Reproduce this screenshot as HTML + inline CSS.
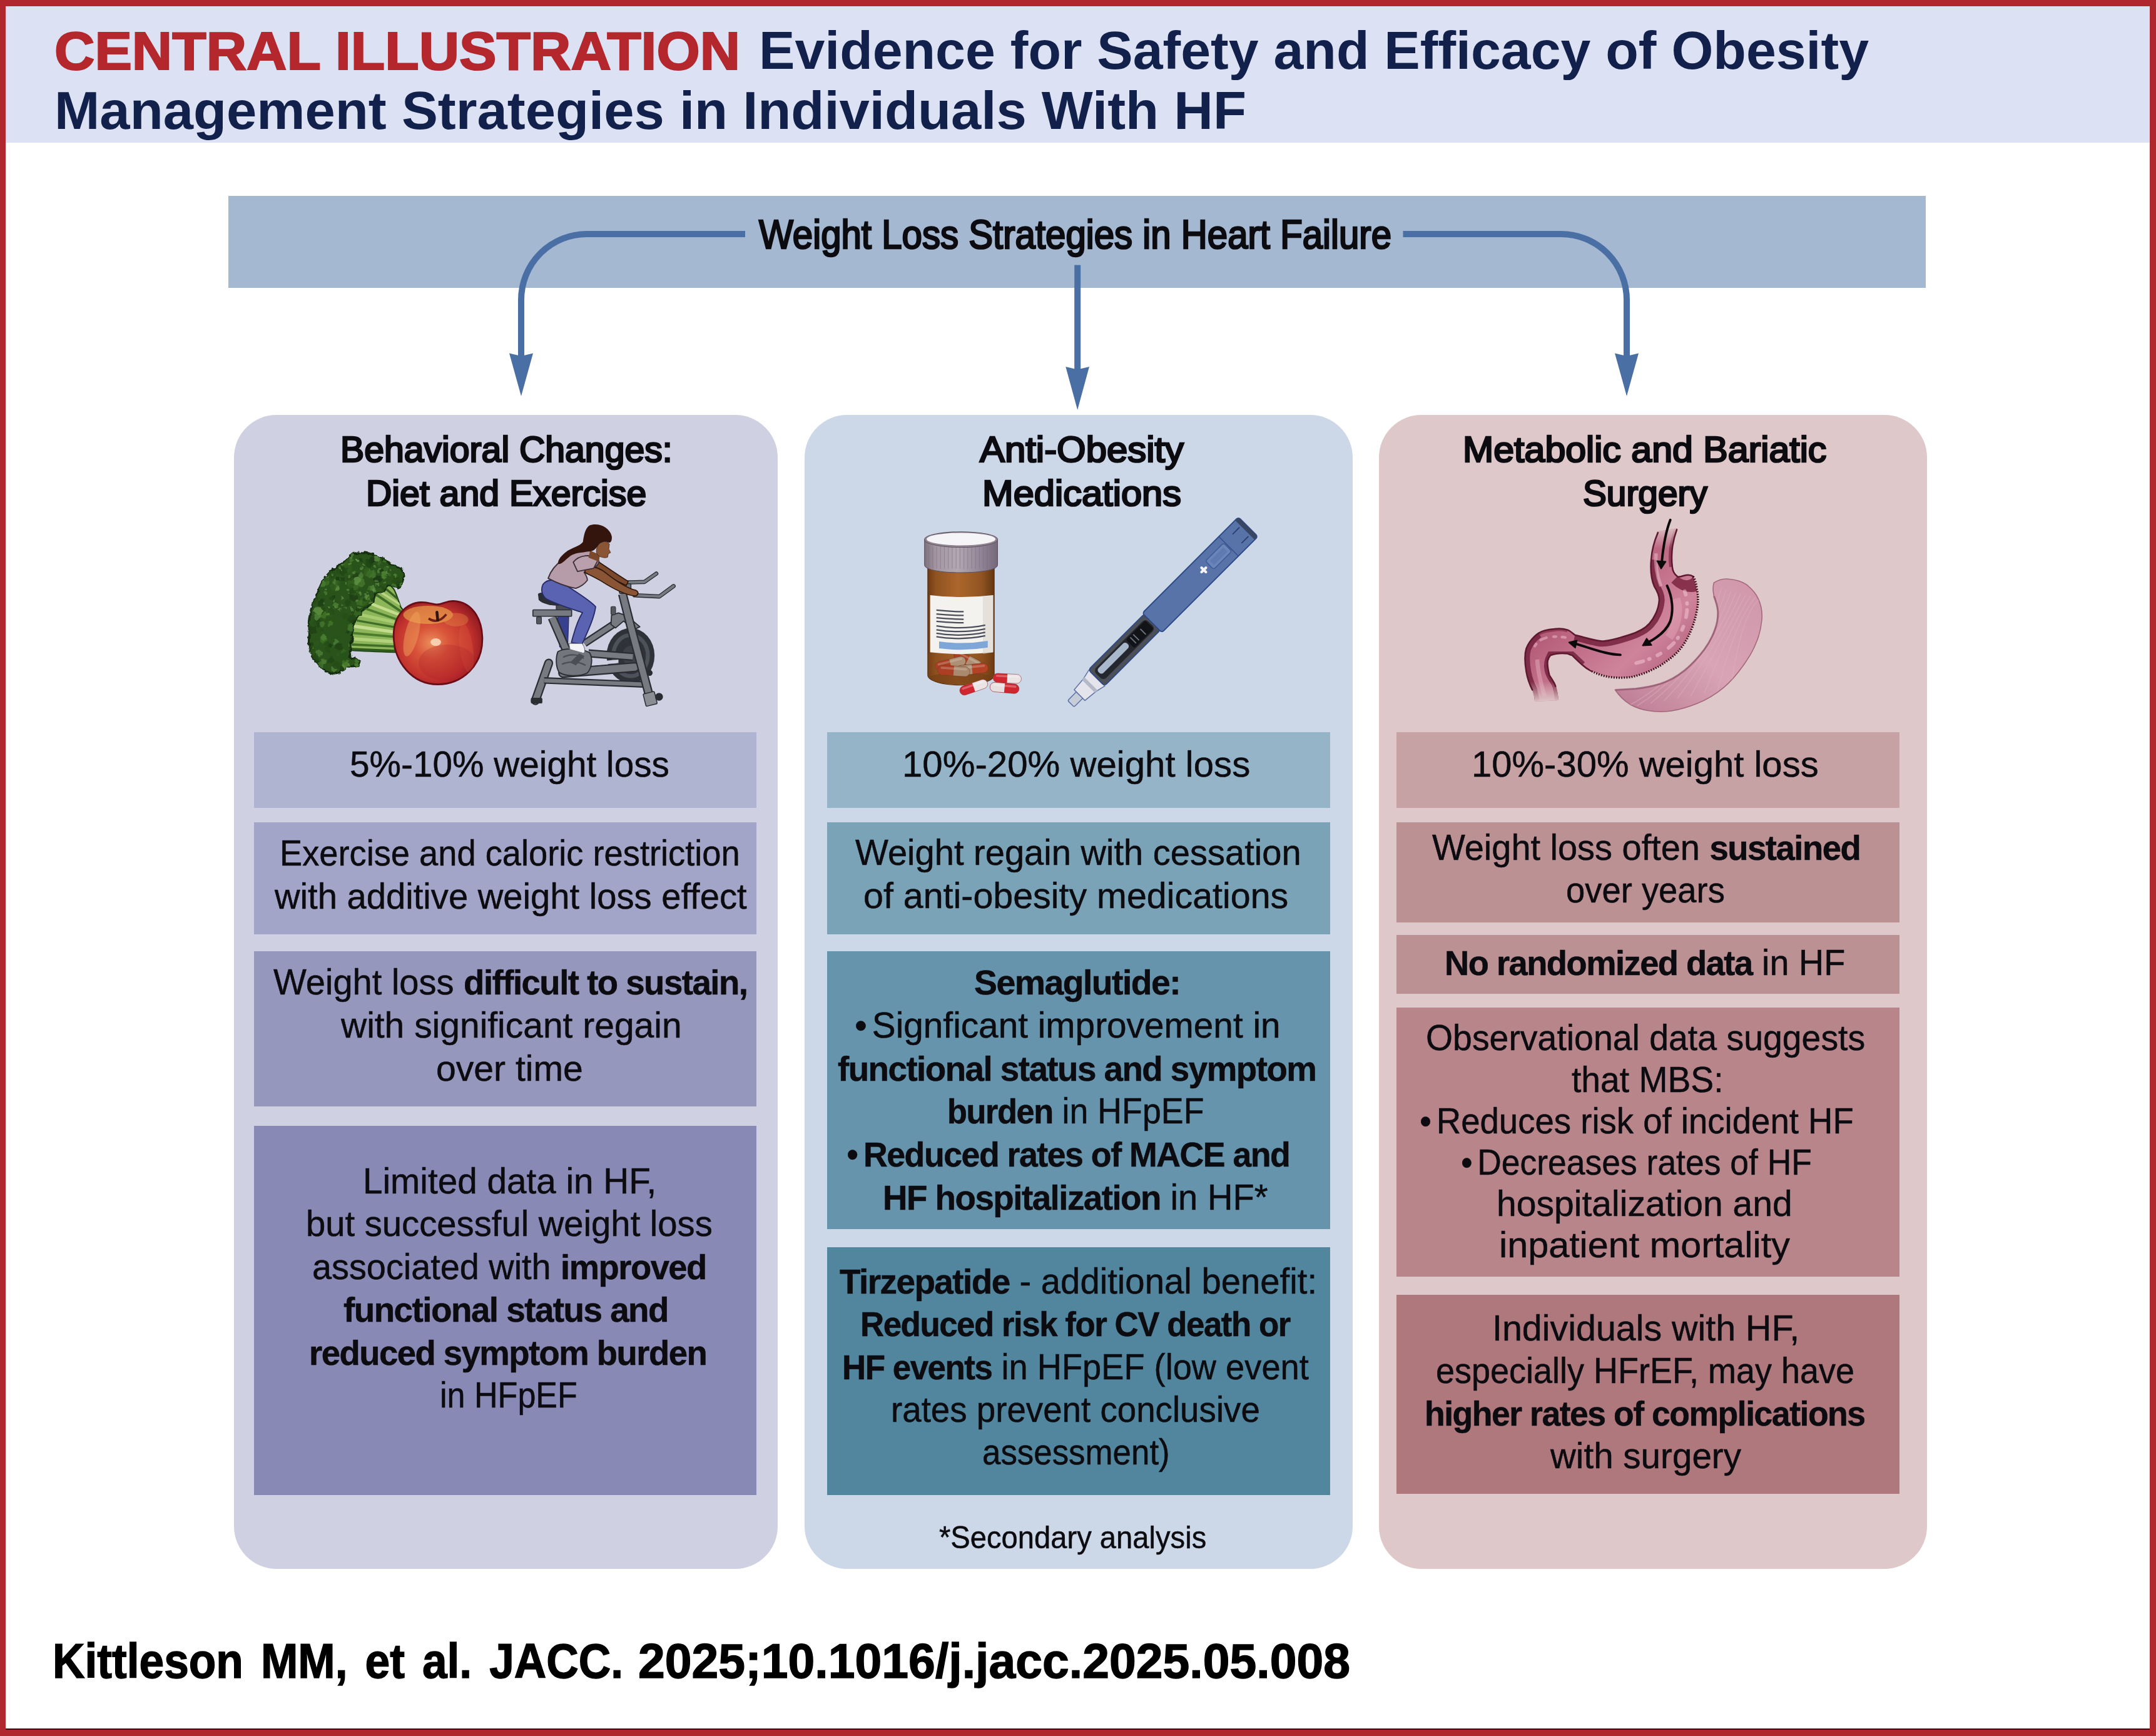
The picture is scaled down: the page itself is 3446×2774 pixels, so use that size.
<!DOCTYPE html>
<html lang="en"><head><meta charset="utf-8">
<title>Central Illustration: Obesity Management Strategies in HF</title>
<style>
html,body{margin:0;padding:0;background:#fff;}
body{width:3446px;height:2774px;position:relative;overflow:hidden;font-family:"Liberation Sans", "DejaVu Sans", sans-serif;}
#frame{position:absolute;left:0;top:0;width:3446px;height:2774px;box-sizing:border-box;border-style:solid;border-color:#b0272d;border-width:10px 10px 11px 9px;}
.bx{position:absolute;}
.t{position:absolute;white-space:nowrap;line-height:1;transform-origin:0 0;margin:0;}
.t b{font-weight:700;letter-spacing:-0.028em;font-size:0.975em;}
p.t{-webkit-text-stroke:0.5px currentColor;}
.red{-webkit-text-stroke:2.2px #b3272d;}
p.md{-webkit-text-stroke:2.7px currentColor;}
.bu{margin-right:0.14em;}
p.ft{-webkit-text-stroke:1.4px currentColor;}
svg.art{position:absolute;left:0;top:0;overflow:visible;}
</style></head><body>
<div class="bx" style="left:9.0px;top:10.0px;width:3428.0px;height:218.0px;background:#dce2f3;"></div>
<div class="bx" style="left:365.0px;top:313.0px;width:2713.0px;height:146.5px;background:#a5b8d1;"></div>
<div class="bx" style="left:373.5px;top:663.3px;width:869.1px;height:1843.7px;background:#d0d0e3;border-radius:68px;"></div>
<div class="bx" style="left:1285.5px;top:663.3px;width:876.0px;height:1843.7px;background:#ccd8e7;border-radius:68px;"></div>
<div class="bx" style="left:2204.0px;top:663.3px;width:876.0px;height:1843.7px;background:#dec8c9;border-radius:68px;"></div>
<div class="bx" style="left:406.2px;top:1170.0px;width:803.3px;height:120.5px;background:#afb4d1;"></div>
<div class="bx" style="left:406.2px;top:1314.0px;width:803.3px;height:179.3px;background:#a3a5c8;"></div>
<div class="bx" style="left:406.2px;top:1520.0px;width:803.3px;height:247.7px;background:#9597bc;"></div>
<div class="bx" style="left:406.2px;top:1799.0px;width:803.3px;height:589.8px;background:#8889b5;"></div>
<div class="bx" style="left:1322.0px;top:1170.0px;width:804.0px;height:120.5px;background:#96b4c8;"></div>
<div class="bx" style="left:1322.0px;top:1314.0px;width:804.0px;height:179.3px;background:#7ba3b8;"></div>
<div class="bx" style="left:1322.0px;top:1520.0px;width:804.0px;height:444.4px;background:#6694ac;"></div>
<div class="bx" style="left:1322.0px;top:1993.0px;width:804.0px;height:395.8px;background:#52869f;"></div>
<div class="bx" style="left:2232.0px;top:1170.0px;width:804.0px;height:120.5px;background:#c6a2a5;"></div>
<div class="bx" style="left:2232.0px;top:1314.0px;width:804.0px;height:159.5px;background:#bc9194;"></div>
<div class="bx" style="left:2232.0px;top:1494.0px;width:804.0px;height:93.8px;background:#bc9194;"></div>
<div class="bx" style="left:2232.0px;top:1609.6px;width:804.0px;height:430.8px;background:#b8868a;"></div>
<div class="bx" style="left:2232.0px;top:2069.0px;width:804.0px;height:317.5px;background:#ae787d;"></div>
<svg class="art" width="3446" height="2774" viewBox="0 0 3446 2774" aria-label="flow arrows and illustrations">
<g fill="none" stroke="#4a6fa5" stroke-width="10">
<path d="M1191,374 H938 A105,105 0 0 0 833,479 V572"/>
<path d="M2242.500,374 H2495 A105,105 0 0 1 2600,479 V572"/>
<path d="M1722.200,423.500 V592"/>
</g>
<g fill="#4a6fa5">
<path d="M814,564.500 L833,569 L852,564.500 L833,633 Z"/>
<path d="M2581,564.500 L2600,569 L2619,564.500 L2600,633 Z"/>
<path d="M1703.300,586 L1722.200,590.500 L1741,586 L1722.200,655 Z"/>
</g>
<svg x="470" y="860" width="330" height="250" viewBox="0 0 2156 1633">
<defs>
<clipPath id="crownClip"><path id="crownP" d="M620,160 C700,140 780,150 840,180 C900,200 960,230 1000,270 C1060,290 1120,310 1140,340 C1160,380 1140,440 1110,520 C1090,540 1060,500 1000,490 C960,500 950,540 940,560 C900,560 860,560 850,580 C830,620 830,660 800,690 C760,720 720,740 700,770 C660,810 640,850 620,900 C600,960 610,1000 600,1060 C590,1110 580,1150 590,1180 C580,1220 580,1240 600,1250 C640,1250 670,1260 680,1280 C690,1310 670,1330 640,1340 C600,1350 570,1340 540,1350 C510,1380 480,1400 440,1410 C400,1420 360,1400 330,1390 C290,1360 270,1330 250,1300 C210,1270 190,1240 180,1200 C150,1140 150,1060 160,1000 C150,900 170,780 190,700 C200,640 230,600 250,560 C270,500 300,440 330,400 C360,350 410,320 450,300 C480,260 520,240 560,220 C580,190 600,170 620,160 Z"/></clipPath>
<clipPath id="stalkClip"><path id="stalkP" d="M850,580 C880,560 960,500 1000,490 C1030,510 1050,540 1060,570 C1080,620 1100,680 1115,720 L1145,760 C1100,800 1070,840 1060,870 C1040,960 1040,1100 1055,1190 C900,1185 750,1180 600,1170 C590,1150 590,1120 595,1090 C600,1000 610,930 640,860 C660,820 680,790 700,770 C740,740 790,710 820,680 C835,650 840,610 850,580 Z"/></clipPath>
<filter id="rough" x="-5%" y="-5%" width="110%" height="110%"><feTurbulence type="fractalNoise" baseFrequency="0.022" numOctaves="2" seed="4" result="n"/><feDisplacementMap in="SourceGraphic" in2="n" scale="46" xChannelSelector="R" yChannelSelector="G"/></filter>
<radialGradient id="appleG" cx="0.46" cy="0.52" r="0.6" fx="0.42" fy="0.5">
<stop offset="0" stop-color="#ec8c5c"/><stop offset="0.32" stop-color="#d9553a"/><stop offset="0.72" stop-color="#c0302c"/><stop offset="1" stop-color="#8a1720"/>
</radialGradient>
</defs>
<path d="M850,580 C880,560 960,500 1000,490 C1030,510 1050,540 1060,570 C1080,620 1100,680 1115,720 L1145,760 C1100,800 1070,840 1060,870 C1040,960 1040,1100 1055,1190 C900,1185 750,1180 600,1170 C590,1150 590,1120 595,1090 C600,1000 610,930 640,860 C660,820 680,790 700,770 C740,740 790,710 820,680 C835,650 840,610 850,580 Z" fill="#8db55a" stroke="#1f4216" stroke-width="14"/>
<g clip-path="url(#stalkClip)" fill="none" stroke-linecap="round">
<path d="M860,590 L1110,760" stroke="#3f6e26" stroke-width="26"/>
<path d="M900,560 L1120,700" stroke="#b9d684" stroke-width="22"/>
<path d="M820,690 L1100,800" stroke="#c4dc8e" stroke-width="30"/>
<path d="M760,740 L1080,850" stroke="#4b7c2c" stroke-width="24"/>
<path d="M700,800 L1070,880" stroke="#a8cc70" stroke-width="34"/>
<path d="M660,860 L1060,930" stroke="#3f6e26" stroke-width="22"/>
<path d="M640,920 L1050,980" stroke="#c4dc8e" stroke-width="34"/>
<path d="M620,990 L1050,1030" stroke="#4b7c2c" stroke-width="24"/>
<path d="M610,1050 L1050,1080" stroke="#b4d27c" stroke-width="34"/>
<path d="M600,1110 L1050,1130" stroke="#3f6e26" stroke-width="24"/>
<path d="M600,1160 L1055,1180" stroke="#2f5a1e" stroke-width="30"/>
<path d="M950,520 L1090,640" stroke="#35601f" stroke-width="22"/>
</g>
<g filter="url(#rough)">
<use href="#crownP" fill="#2a531b" stroke="#142f0f" stroke-width="20"/>
<g clip-path="url(#crownClip)">
<circle cx="473" cy="341" r="35" fill="#264c18" opacity="0.88"/>
<circle cx="244" cy="890" r="43" fill="#1c3d13" opacity="0.56"/>
<circle cx="583" cy="238" r="18" fill="#204316" opacity="0.57"/>
<circle cx="715" cy="1353" r="34" fill="#1a3a12" opacity="0.93"/>
<circle cx="727" cy="653" r="45" fill="#356621" opacity="0.77"/>
<circle cx="283" cy="682" r="32" fill="#1a3a12" opacity="0.67"/>
<circle cx="966" cy="379" r="33" fill="#1c3d13" opacity="0.70"/>
<circle cx="697" cy="229" r="17" fill="#1c3d13" opacity="0.75"/>
<circle cx="681" cy="1137" r="29" fill="#5a8c3f" opacity="0.69"/>
<circle cx="398" cy="378" r="39" fill="#264c18" opacity="0.78"/>
<circle cx="675" cy="1261" r="37" fill="#4b8032" opacity="0.79"/>
<circle cx="223" cy="800" r="20" fill="#2f5b1e" opacity="0.61"/>
<circle cx="638" cy="199" r="36" fill="#29521a" opacity="0.78"/>
<circle cx="1025" cy="548" r="36" fill="#1a3a12" opacity="0.75"/>
<circle cx="946" cy="237" r="18" fill="#4b8032" opacity="0.74"/>
<circle cx="814" cy="227" r="37" fill="#1a3a12" opacity="0.95"/>
<circle cx="971" cy="511" r="27" fill="#2f5b1e" opacity="0.56"/>
<circle cx="611" cy="363" r="19" fill="#356621" opacity="0.64"/>
<circle cx="437" cy="1087" r="27" fill="#5a8c3f" opacity="0.58"/>
<circle cx="599" cy="847" r="42" fill="#204316" opacity="0.90"/>
<circle cx="428" cy="677" r="26" fill="#204316" opacity="0.93"/>
<circle cx="300" cy="373" r="22" fill="#1c3d13" opacity="0.55"/>
<circle cx="981" cy="381" r="24" fill="#427629" opacity="0.72"/>
<circle cx="519" cy="869" r="44" fill="#29521a" opacity="0.93"/>
<circle cx="804" cy="1089" r="29" fill="#29521a" opacity="0.71"/>
<circle cx="548" cy="281" r="35" fill="#356621" opacity="0.63"/>
<circle cx="1134" cy="709" r="19" fill="#1a3a12" opacity="0.57"/>
<circle cx="150" cy="342" r="19" fill="#2f5b1e" opacity="0.80"/>
<circle cx="220" cy="414" r="27" fill="#4b8032" opacity="0.93"/>
<circle cx="752" cy="752" r="19" fill="#5a8c3f" opacity="0.95"/>
<circle cx="615" cy="764" r="18" fill="#264c18" opacity="0.85"/>
<circle cx="890" cy="757" r="36" fill="#29521a" opacity="0.56"/>
<circle cx="1100" cy="820" r="20" fill="#29521a" opacity="0.92"/>
<circle cx="908" cy="528" r="35" fill="#264c18" opacity="0.83"/>
<circle cx="411" cy="615" r="21" fill="#1c3d13" opacity="0.76"/>
<circle cx="929" cy="568" r="22" fill="#1c3d13" opacity="0.87"/>
<circle cx="968" cy="1089" r="22" fill="#29521a" opacity="0.75"/>
<circle cx="881" cy="1406" r="39" fill="#5a8c3f" opacity="0.65"/>
<circle cx="842" cy="1364" r="29" fill="#2f5b1e" opacity="0.93"/>
<circle cx="514" cy="429" r="22" fill="#1c3d13" opacity="0.69"/>
<circle cx="632" cy="1401" r="34" fill="#356621" opacity="0.74"/>
<circle cx="802" cy="1165" r="18" fill="#264c18" opacity="0.91"/>
<circle cx="932" cy="1102" r="30" fill="#427629" opacity="0.72"/>
<circle cx="785" cy="260" r="44" fill="#204316" opacity="0.74"/>
<circle cx="893" cy="257" r="20" fill="#427629" opacity="0.56"/>
<circle cx="740" cy="740" r="35" fill="#1a3a12" opacity="0.88"/>
<circle cx="1130" cy="984" r="26" fill="#29521a" opacity="0.77"/>
<circle cx="171" cy="1165" r="37" fill="#264c18" opacity="0.76"/>
<circle cx="1083" cy="700" r="42" fill="#1c3d13" opacity="0.56"/>
<circle cx="362" cy="786" r="38" fill="#2f5b1e" opacity="0.65"/>
<circle cx="569" cy="316" r="43" fill="#2f5b1e" opacity="0.91"/>
<circle cx="812" cy="1185" r="31" fill="#29521a" opacity="0.60"/>
<circle cx="301" cy="798" r="42" fill="#427629" opacity="0.79"/>
<circle cx="926" cy="340" r="20" fill="#1a3a12" opacity="0.84"/>
<circle cx="706" cy="563" r="31" fill="#29521a" opacity="0.74"/>
<circle cx="926" cy="1271" r="17" fill="#1c3d13" opacity="0.66"/>
<circle cx="922" cy="794" r="32" fill="#264c18" opacity="0.73"/>
<circle cx="762" cy="792" r="31" fill="#4b8032" opacity="0.73"/>
<circle cx="683" cy="757" r="44" fill="#29521a" opacity="0.90"/>
<circle cx="1092" cy="479" r="32" fill="#1c3d13" opacity="0.89"/>
<circle cx="287" cy="304" r="29" fill="#264c18" opacity="0.82"/>
<circle cx="578" cy="420" r="25" fill="#264c18" opacity="0.91"/>
<circle cx="304" cy="1059" r="35" fill="#427629" opacity="0.65"/>
<circle cx="287" cy="744" r="38" fill="#264c18" opacity="0.71"/>
<circle cx="637" cy="1407" r="40" fill="#427629" opacity="0.83"/>
<circle cx="1144" cy="662" r="28" fill="#2f5b1e" opacity="0.68"/>
<circle cx="872" cy="174" r="32" fill="#5a8c3f" opacity="0.83"/>
<circle cx="534" cy="807" r="24" fill="#264c18" opacity="0.60"/>
<circle cx="1068" cy="440" r="42" fill="#264c18" opacity="0.66"/>
<circle cx="189" cy="1139" r="24" fill="#427629" opacity="0.88"/>
<circle cx="999" cy="1008" r="44" fill="#204316" opacity="0.61"/>
<circle cx="1069" cy="874" r="37" fill="#264c18" opacity="0.66"/>
<circle cx="949" cy="382" r="42" fill="#4b8032" opacity="0.93"/>
<circle cx="784" cy="1168" r="18" fill="#1c3d13" opacity="0.58"/>
<circle cx="1012" cy="726" r="26" fill="#29521a" opacity="0.72"/>
<circle cx="1065" cy="939" r="17" fill="#1c3d13" opacity="0.93"/>
<circle cx="1119" cy="482" r="21" fill="#4b8032" opacity="0.80"/>
<circle cx="681" cy="411" r="29" fill="#427629" opacity="0.66"/>
<circle cx="953" cy="1413" r="17" fill="#356621" opacity="0.84"/>
<circle cx="701" cy="390" r="30" fill="#5a8c3f" opacity="0.59"/>
<circle cx="968" cy="698" r="30" fill="#204316" opacity="0.94"/>
<circle cx="457" cy="423" r="22" fill="#1c3d13" opacity="0.88"/>
<circle cx="856" cy="957" r="28" fill="#2f5b1e" opacity="0.94"/>
<circle cx="986" cy="168" r="34" fill="#4b8032" opacity="0.72"/>
<circle cx="205" cy="994" r="27" fill="#29521a" opacity="0.82"/>
<circle cx="431" cy="457" r="24" fill="#5a8c3f" opacity="0.62"/>
<circle cx="419" cy="154" r="26" fill="#2f5b1e" opacity="0.94"/>
<circle cx="697" cy="460" r="44" fill="#4b8032" opacity="0.64"/>
<circle cx="332" cy="575" r="18" fill="#4b8032" opacity="0.75"/>
<circle cx="350" cy="791" r="16" fill="#4b8032" opacity="0.88"/>
<circle cx="293" cy="895" r="27" fill="#4b8032" opacity="0.67"/>
<circle cx="382" cy="893" r="31" fill="#427629" opacity="0.81"/>
<circle cx="865" cy="1266" r="27" fill="#2f5b1e" opacity="0.84"/>
<circle cx="644" cy="510" r="34" fill="#427629" opacity="0.57"/>
<circle cx="985" cy="1282" r="34" fill="#29521a" opacity="0.61"/>
<circle cx="673" cy="790" r="41" fill="#356621" opacity="0.88"/>
<circle cx="734" cy="1283" r="36" fill="#1c3d13" opacity="0.58"/>
<circle cx="191" cy="959" r="44" fill="#204316" opacity="0.88"/>
<circle cx="708" cy="947" r="34" fill="#1c3d13" opacity="0.75"/>
<circle cx="153" cy="1163" r="38" fill="#29521a" opacity="0.91"/>
<circle cx="241" cy="818" r="38" fill="#5a8c3f" opacity="0.65"/>
<circle cx="224" cy="487" r="37" fill="#1c3d13" opacity="0.64"/>
<circle cx="799" cy="734" r="41" fill="#264c18" opacity="0.74"/>
<circle cx="833" cy="1124" r="34" fill="#1c3d13" opacity="0.58"/>
<circle cx="297" cy="472" r="38" fill="#4b8032" opacity="0.80"/>
<circle cx="283" cy="762" r="30" fill="#264c18" opacity="0.83"/>
<circle cx="825" cy="519" r="31" fill="#5a8c3f" opacity="0.74"/>
<circle cx="917" cy="1411" r="32" fill="#4b8032" opacity="0.94"/>
<circle cx="1086" cy="172" r="29" fill="#29521a" opacity="0.94"/>
<circle cx="599" cy="491" r="22" fill="#1c3d13" opacity="0.58"/>
<circle cx="240" cy="1099" r="23" fill="#2f5b1e" opacity="0.60"/>
<circle cx="970" cy="796" r="42" fill="#2f5b1e" opacity="0.64"/>
<circle cx="1047" cy="767" r="16" fill="#356621" opacity="0.93"/>
<circle cx="831" cy="664" r="37" fill="#204316" opacity="0.69"/>
<circle cx="466" cy="1217" r="16" fill="#2f5b1e" opacity="0.89"/>
<circle cx="270" cy="1326" r="37" fill="#4b8032" opacity="0.65"/>
<circle cx="214" cy="645" r="42" fill="#264c18" opacity="0.69"/>
<circle cx="578" cy="499" r="17" fill="#264c18" opacity="0.57"/>
<circle cx="811" cy="956" r="20" fill="#4b8032" opacity="0.72"/>
<circle cx="465" cy="1131" r="39" fill="#204316" opacity="0.90"/>
<circle cx="961" cy="951" r="43" fill="#29521a" opacity="0.77"/>
<circle cx="869" cy="212" r="37" fill="#5a8c3f" opacity="0.80"/>
<circle cx="288" cy="1254" r="30" fill="#29521a" opacity="0.60"/>
<circle cx="622" cy="586" r="24" fill="#4b8032" opacity="0.71"/>
<circle cx="388" cy="763" r="36" fill="#264c18" opacity="0.62"/>
<circle cx="311" cy="413" r="43" fill="#5a8c3f" opacity="0.77"/>
<circle cx="602" cy="572" r="38" fill="#204316" opacity="0.61"/>
<circle cx="342" cy="265" r="26" fill="#264c18" opacity="0.68"/>
<circle cx="518" cy="1177" r="22" fill="#356621" opacity="0.85"/>
<circle cx="562" cy="675" r="31" fill="#204316" opacity="0.66"/>
<circle cx="902" cy="782" r="33" fill="#2f5b1e" opacity="0.60"/>
<circle cx="653" cy="949" r="41" fill="#1c3d13" opacity="0.59"/>
<circle cx="1046" cy="638" r="35" fill="#204316" opacity="0.93"/>
<circle cx="998" cy="1258" r="16" fill="#356621" opacity="0.72"/>
<circle cx="913" cy="1171" r="45" fill="#5a8c3f" opacity="0.55"/>
<circle cx="541" cy="1327" r="40" fill="#5a8c3f" opacity="0.94"/>
<circle cx="398" cy="288" r="20" fill="#29521a" opacity="0.94"/>
<circle cx="258" cy="1198" r="37" fill="#5a8c3f" opacity="0.58"/>
<circle cx="926" cy="151" r="19" fill="#1a3a12" opacity="0.92"/>
<circle cx="795" cy="535" r="19" fill="#4b8032" opacity="0.76"/>
<circle cx="587" cy="1120" r="18" fill="#4b8032" opacity="0.76"/>
<circle cx="732" cy="642" r="22" fill="#1a3a12" opacity="0.55"/>
<circle cx="687" cy="1415" r="24" fill="#2f5b1e" opacity="0.81"/>
<circle cx="1033" cy="753" r="23" fill="#1c3d13" opacity="0.56"/>
<circle cx="561" cy="975" r="17" fill="#1c3d13" opacity="0.75"/>
<circle cx="824" cy="683" r="23" fill="#204316" opacity="0.92"/>
<circle cx="376" cy="193" r="26" fill="#204316" opacity="0.69"/>
<circle cx="546" cy="158" r="24" fill="#29521a" opacity="0.58"/>
<circle cx="645" cy="404" r="38" fill="#1c3d13" opacity="0.64"/>
<circle cx="371" cy="1115" r="24" fill="#1a3a12" opacity="0.75"/>
<circle cx="337" cy="433" r="28" fill="#356621" opacity="0.93"/>
<circle cx="296" cy="649" r="22" fill="#1a3a12" opacity="0.61"/>
<circle cx="201" cy="226" r="27" fill="#2f5b1e" opacity="0.84"/>
<circle cx="1147" cy="1333" r="25" fill="#427629" opacity="0.81"/>
<circle cx="674" cy="743" r="25" fill="#204316" opacity="0.89"/>
<circle cx="1134" cy="711" r="19" fill="#264c18" opacity="0.66"/>
<circle cx="501" cy="1363" r="19" fill="#1c3d13" opacity="0.70"/>
<circle cx="918" cy="542" r="40" fill="#264c18" opacity="0.57"/>
<circle cx="623" cy="623" r="43" fill="#1c3d13" opacity="0.68"/>
<circle cx="887" cy="752" r="34" fill="#1c3d13" opacity="0.87"/>
<circle cx="916" cy="201" r="17" fill="#264c18" opacity="0.87"/>
<circle cx="212" cy="397" r="17" fill="#1a3a12" opacity="0.69"/>
<circle cx="422" cy="1366" r="34" fill="#4b8032" opacity="0.85"/>
<circle cx="839" cy="1323" r="24" fill="#1a3a12" opacity="0.92"/>
<circle cx="783" cy="1347" r="16" fill="#1c3d13" opacity="0.59"/>
<circle cx="865" cy="741" r="39" fill="#4b8032" opacity="0.92"/>
<circle cx="964" cy="318" r="30" fill="#356621" opacity="0.87"/>
<circle cx="888" cy="1194" r="39" fill="#1a3a12" opacity="0.64"/>
<circle cx="1011" cy="735" r="39" fill="#1a3a12" opacity="0.58"/>
<circle cx="347" cy="1106" r="23" fill="#264c18" opacity="0.81"/>
<circle cx="631" cy="841" r="20" fill="#204316" opacity="0.90"/>
<circle cx="1137" cy="486" r="18" fill="#264c18" opacity="0.72"/>
<circle cx="1138" cy="1384" r="21" fill="#427629" opacity="0.72"/>
<circle cx="770" cy="1006" r="38" fill="#264c18" opacity="0.86"/>
<circle cx="443" cy="504" r="24" fill="#4b8032" opacity="0.85"/>
<circle cx="349" cy="464" r="23" fill="#427629" opacity="0.66"/>
<circle cx="1057" cy="389" r="17" fill="#4b8032" opacity="0.95"/>
<circle cx="657" cy="443" r="40" fill="#5a8c3f" opacity="0.95"/>
<circle cx="252" cy="752" r="40" fill="#5a8c3f" opacity="0.92"/>
<circle cx="190" cy="522" r="19" fill="#1c3d13" opacity="0.79"/>
<circle cx="977" cy="396" r="18" fill="#29521a" opacity="0.90"/>
<circle cx="599" cy="480" r="39" fill="#356621" opacity="0.59"/>
<circle cx="746" cy="937" r="22" fill="#2f5b1e" opacity="0.69"/>
<circle cx="194" cy="1419" r="17" fill="#1c3d13" opacity="0.88"/>
<circle cx="968" cy="669" r="27" fill="#1a3a12" opacity="0.67"/>
<circle cx="353" cy="1160" r="32" fill="#264c18" opacity="0.71"/>
<circle cx="945" cy="993" r="20" fill="#29521a" opacity="0.59"/>
<circle cx="313" cy="1033" r="28" fill="#4b8032" opacity="0.82"/>
<circle cx="567" cy="215" r="38" fill="#2f5b1e" opacity="0.72"/>
<circle cx="168" cy="1123" r="40" fill="#1c3d13" opacity="0.71"/>
<circle cx="554" cy="1346" r="29" fill="#427629" opacity="0.72"/>
<circle cx="970" cy="665" r="42" fill="#5a8c3f" opacity="0.86"/>
<circle cx="279" cy="215" r="20" fill="#204316" opacity="0.59"/>
<circle cx="772" cy="620" r="31" fill="#427629" opacity="0.69"/>
<circle cx="311" cy="368" r="18" fill="#204316" opacity="0.75"/>
<circle cx="954" cy="1377" r="21" fill="#427629" opacity="0.88"/>
<circle cx="193" cy="1309" r="25" fill="#1a3a12" opacity="0.92"/>
<circle cx="537" cy="1298" r="34" fill="#427629" opacity="0.81"/>
<circle cx="1006" cy="938" r="34" fill="#1c3d13" opacity="0.88"/>
<circle cx="332" cy="427" r="27" fill="#29521a" opacity="0.61"/>
<circle cx="509" cy="339" r="45" fill="#1c3d13" opacity="0.57"/>
<circle cx="712" cy="1111" r="17" fill="#2f5b1e" opacity="0.60"/>
<circle cx="749" cy="848" r="34" fill="#4b8032" opacity="0.81"/>
<circle cx="458" cy="466" r="27" fill="#2f5b1e" opacity="0.73"/>
<circle cx="588" cy="179" r="34" fill="#5a8c3f" opacity="0.74"/>
<circle cx="596" cy="935" r="40" fill="#427629" opacity="0.87"/>
<circle cx="550" cy="235" r="26" fill="#2f5b1e" opacity="0.59"/>
<circle cx="591" cy="797" r="17" fill="#427629" opacity="0.58"/>
<circle cx="883" cy="1137" r="31" fill="#356621" opacity="0.85"/>
<circle cx="1044" cy="978" r="39" fill="#356621" opacity="0.89"/>
<circle cx="1146" cy="1079" r="40" fill="#1c3d13" opacity="0.60"/>
<circle cx="1035" cy="515" r="40" fill="#427629" opacity="0.82"/>
<circle cx="871" cy="430" r="40" fill="#1a3a12" opacity="0.85"/>
<circle cx="308" cy="1288" r="24" fill="#5a8c3f" opacity="0.61"/>
<circle cx="652" cy="1318" r="22" fill="#4b8032" opacity="0.80"/>
<circle cx="387" cy="622" r="21" fill="#204316" opacity="0.61"/>
<circle cx="1086" cy="1013" r="42" fill="#427629" opacity="0.87"/>
<circle cx="414" cy="1125" r="17" fill="#2f5b1e" opacity="0.94"/>
<circle cx="603" cy="812" r="36" fill="#264c18" opacity="0.65"/>
<circle cx="685" cy="1237" r="38" fill="#2f5b1e" opacity="0.66"/>
<circle cx="1140" cy="883" r="26" fill="#264c18" opacity="0.73"/>
<circle cx="326" cy="1094" r="17" fill="#29521a" opacity="0.65"/>
<circle cx="789" cy="1399" r="33" fill="#2f5b1e" opacity="0.84"/>
<circle cx="897" cy="431" r="24" fill="#204316" opacity="0.72"/>
<circle cx="514" cy="210" r="30" fill="#1a3a12" opacity="0.81"/>
<circle cx="172" cy="153" r="26" fill="#264c18" opacity="0.76"/>
<circle cx="684" cy="674" r="25" fill="#427629" opacity="0.63"/>
<circle cx="773" cy="753" r="20" fill="#1c3d13" opacity="0.83"/>
<circle cx="600" cy="230" r="20" fill="#4b8032" opacity="0.71"/>
<circle cx="414" cy="164" r="35" fill="#29521a" opacity="0.91"/>
<circle cx="744" cy="884" r="34" fill="#29521a" opacity="0.84"/>
<circle cx="398" cy="1297" r="17" fill="#29521a" opacity="0.56"/>
<circle cx="335" cy="352" r="43" fill="#264c18" opacity="0.55"/>
<circle cx="700" cy="1344" r="20" fill="#1c3d13" opacity="0.76"/>
<circle cx="792" cy="972" r="28" fill="#1a3a12" opacity="0.62"/>
<circle cx="459" cy="531" r="17" fill="#5a8c3f" opacity="0.84"/>
<circle cx="156" cy="1222" r="38" fill="#5a8c3f" opacity="0.58"/>
<circle cx="805" cy="372" r="45" fill="#4b8032" opacity="0.64"/>
<circle cx="188" cy="576" r="38" fill="#4b8032" opacity="0.83"/>
<circle cx="415" cy="853" r="29" fill="#29521a" opacity="0.94"/>
<circle cx="445" cy="1329" r="42" fill="#264c18" opacity="0.90"/>
<circle cx="165" cy="480" r="23" fill="#1c3d13" opacity="0.93"/>
<circle cx="896" cy="565" r="42" fill="#2f5b1e" opacity="0.79"/>
<circle cx="529" cy="1231" r="43" fill="#29521a" opacity="0.74"/>
<circle cx="989" cy="1035" r="41" fill="#204316" opacity="0.93"/>
<circle cx="383" cy="1273" r="39" fill="#204316" opacity="0.80"/>
<circle cx="227" cy="1306" r="20" fill="#356621" opacity="0.59"/>
<circle cx="771" cy="355" r="45" fill="#356621" opacity="0.56"/>
<circle cx="288" cy="967" r="17" fill="#264c18" opacity="0.84"/>
<circle cx="215" cy="899" r="26" fill="#29521a" opacity="0.91"/>
<circle cx="215" cy="1252" r="43" fill="#204316" opacity="0.59"/>
<circle cx="355" cy="292" r="17" fill="#264c18" opacity="0.88"/>
<circle cx="781" cy="514" r="18" fill="#264c18" opacity="0.87"/>
<circle cx="796" cy="523" r="26" fill="#4b8032" opacity="0.56"/>
<circle cx="406" cy="508" r="37" fill="#2f5b1e" opacity="0.91"/>
<circle cx="919" cy="914" r="30" fill="#4b8032" opacity="0.80"/>
<circle cx="180" cy="674" r="29" fill="#264c18" opacity="0.69"/>
<circle cx="854" cy="833" r="22" fill="#264c18" opacity="0.78"/>
<circle cx="437" cy="703" r="31" fill="#4b8032" opacity="0.85"/>
<circle cx="1127" cy="155" r="30" fill="#5a8c3f" opacity="0.83"/>
<circle cx="919" cy="742" r="12" fill="#6f9f52" opacity="0.55"/>
<circle cx="1017" cy="498" r="12" fill="#6f9f52" opacity="0.55"/>
<circle cx="419" cy="660" r="15" fill="#6f9f52" opacity="0.55"/>
<circle cx="473" cy="309" r="15" fill="#6f9f52" opacity="0.55"/>
<circle cx="875" cy="484" r="15" fill="#6f9f52" opacity="0.55"/>
<circle cx="720" cy="276" r="9" fill="#6f9f52" opacity="0.55"/>
<circle cx="371" cy="721" r="15" fill="#6f9f52" opacity="0.55"/>
<circle cx="858" cy="447" r="12" fill="#6f9f52" opacity="0.55"/>
<circle cx="578" cy="383" r="10" fill="#6f9f52" opacity="0.55"/>
<circle cx="708" cy="312" r="15" fill="#6f9f52" opacity="0.55"/>
<circle cx="773" cy="729" r="8" fill="#6f9f52" opacity="0.55"/>
<circle cx="745" cy="592" r="12" fill="#6f9f52" opacity="0.55"/>
<circle cx="325" cy="534" r="11" fill="#6f9f52" opacity="0.55"/>
<circle cx="950" cy="463" r="11" fill="#6f9f52" opacity="0.55"/>
<circle cx="542" cy="470" r="13" fill="#6f9f52" opacity="0.55"/>
<circle cx="492" cy="344" r="10" fill="#6f9f52" opacity="0.55"/>
<circle cx="782" cy="596" r="11" fill="#6f9f52" opacity="0.55"/>
<circle cx="500" cy="627" r="14" fill="#6f9f52" opacity="0.55"/>
<circle cx="762" cy="610" r="15" fill="#6f9f52" opacity="0.55"/>
<circle cx="842" cy="545" r="10" fill="#6f9f52" opacity="0.55"/>
<circle cx="477" cy="736" r="9" fill="#6f9f52" opacity="0.55"/>
<circle cx="1016" cy="757" r="8" fill="#6f9f52" opacity="0.55"/>
<circle cx="793" cy="325" r="8" fill="#6f9f52" opacity="0.55"/>
<circle cx="411" cy="383" r="9" fill="#6f9f52" opacity="0.55"/>
<circle cx="505" cy="279" r="15" fill="#6f9f52" opacity="0.55"/>
<circle cx="510" cy="698" r="11" fill="#6f9f52" opacity="0.55"/>
<circle cx="309" cy="681" r="10" fill="#6f9f52" opacity="0.55"/>
<circle cx="466" cy="749" r="9" fill="#6f9f52" opacity="0.55"/>
<circle cx="316" cy="358" r="13" fill="#6f9f52" opacity="0.55"/>
<circle cx="304" cy="350" r="14" fill="#6f9f52" opacity="0.55"/>
<circle cx="825" cy="537" r="12" fill="#6f9f52" opacity="0.55"/>
<circle cx="934" cy="580" r="12" fill="#6f9f52" opacity="0.55"/>
<circle cx="958" cy="566" r="12" fill="#6f9f52" opacity="0.55"/>
<circle cx="471" cy="318" r="8" fill="#6f9f52" opacity="0.55"/>
<circle cx="624" cy="360" r="13" fill="#6f9f52" opacity="0.55"/>
<circle cx="971" cy="350" r="10" fill="#6f9f52" opacity="0.55"/>
<circle cx="834" cy="304" r="14" fill="#6f9f52" opacity="0.55"/>
<circle cx="662" cy="230" r="14" fill="#6f9f52" opacity="0.55"/>
<circle cx="688" cy="576" r="14" fill="#6f9f52" opacity="0.55"/>
<circle cx="970" cy="397" r="7" fill="#6f9f52" opacity="0.55"/>
<circle cx="923" cy="710" r="7" fill="#6f9f52" opacity="0.55"/>
<circle cx="488" cy="337" r="13" fill="#6f9f52" opacity="0.55"/>
<circle cx="1013" cy="327" r="10" fill="#6f9f52" opacity="0.55"/>
<circle cx="935" cy="466" r="8" fill="#6f9f52" opacity="0.55"/>
<circle cx="656" cy="228" r="14" fill="#6f9f52" opacity="0.55"/>
<circle cx="577" cy="405" r="13" fill="#6f9f52" opacity="0.55"/>
<circle cx="642" cy="754" r="8" fill="#6f9f52" opacity="0.55"/>
<circle cx="685" cy="723" r="13" fill="#6f9f52" opacity="0.55"/>
<circle cx="760" cy="564" r="9" fill="#6f9f52" opacity="0.55"/>
<circle cx="586" cy="253" r="7" fill="#6f9f52" opacity="0.55"/>
<circle cx="986" cy="559" r="13" fill="#6f9f52" opacity="0.55"/>
<circle cx="735" cy="278" r="9" fill="#6f9f52" opacity="0.55"/>
<circle cx="600" cy="734" r="15" fill="#6f9f52" opacity="0.55"/>
<circle cx="1045" cy="738" r="11" fill="#6f9f52" opacity="0.55"/>
<circle cx="423" cy="721" r="7" fill="#6f9f52" opacity="0.55"/>
<circle cx="898" cy="324" r="12" fill="#6f9f52" opacity="0.55"/>
<circle cx="840" cy="659" r="8" fill="#6f9f52" opacity="0.55"/>
<circle cx="799" cy="668" r="14" fill="#6f9f52" opacity="0.55"/>
<circle cx="609" cy="757" r="13" fill="#6f9f52" opacity="0.55"/>
<circle cx="787" cy="641" r="11" fill="#6f9f52" opacity="0.55"/>
<circle cx="887" cy="344" r="13" fill="#6f9f52" opacity="0.55"/>
<circle cx="815" cy="750" r="13" fill="#6f9f52" opacity="0.55"/>
<circle cx="661" cy="654" r="14" fill="#6f9f52" opacity="0.55"/>
<circle cx="568" cy="573" r="9" fill="#6f9f52" opacity="0.55"/>
<circle cx="663" cy="556" r="7" fill="#6f9f52" opacity="0.55"/>
<circle cx="972" cy="302" r="9" fill="#6f9f52" opacity="0.55"/>
<circle cx="588" cy="266" r="12" fill="#6f9f52" opacity="0.55"/>
<circle cx="543" cy="729" r="11" fill="#6f9f52" opacity="0.55"/>
<circle cx="558" cy="534" r="12" fill="#6f9f52" opacity="0.55"/>
<circle cx="457" cy="258" r="9" fill="#6f9f52" opacity="0.55"/>
</g>
</g>
<clipPath id="appleClip"><path d="M1040,1010 C1040,800 1180,672 1330,668 C1410,668 1450,692 1495,692 C1545,692 1585,655 1665,655 C1850,662 1966,830 1966,1055 C1966,1325 1760,1526 1500,1526 C1240,1526 1040,1300 1040,1010 Z"/></clipPath>
<path d="M1040,1010 C1040,800 1180,672 1330,668 C1410,668 1450,692 1495,692 C1545,692 1585,655 1665,655 C1850,662 1966,830 1966,1055 C1966,1325 1760,1526 1500,1526 C1240,1526 1040,1300 1040,1010 Z" fill="url(#appleG)" stroke="#6a0d16" stroke-width="18"/>
<g clip-path="url(#appleClip)">
<ellipse cx="1400" cy="800" rx="260" ry="95" fill="#eeb050" opacity="0.6"/>
<ellipse cx="1690" cy="850" rx="130" ry="70" fill="#e58a45" opacity="0.4"/>
<ellipse cx="1230" cy="1000" rx="70" ry="240" fill="#f0a05a" opacity="0.5" transform="rotate(14 1230 1000)"/>
<ellipse cx="1800" cy="1150" rx="70" ry="260" fill="#e0603f" opacity="0.28" transform="rotate(-8 1800 1150)"/>
<ellipse cx="1600" cy="1300" rx="300" ry="190" fill="#a81c26" opacity="0.25"/>
<ellipse cx="1480" cy="1085" rx="55" ry="40" fill="#fbe3c6" opacity="0.8"/>
<path d="M1405,838 Q1500,905 1590,795" fill="none" stroke="#5a0e12" stroke-width="24" opacity="0.85"/>
</g>
<path d="M1492,772 L1500,856" stroke="#321409" stroke-width="30" stroke-linecap="round"/>
</svg>
<svg x="830" y="820" width="270" height="320" viewBox="0 0 1465 1736">
<ellipse cx="965" cy="1235" rx="208" ry="238" fill="#2f3238"/>
<ellipse cx="965" cy="1235" rx="150" ry="178" fill="none" stroke="#4d5159" stroke-width="34"/>
<ellipse cx="965" cy="1235" rx="70" ry="85" fill="#3d4047"/>
<path d="M330,860 L430,870 L420,1160 L350,1160 Z" fill="#38418f" stroke="#23285e" stroke-width="6"/>
<path d="M255,1300 L140,1625" fill="none" stroke="#2b2d32" stroke-width="78" stroke-linecap="round" stroke-linejoin="round"/><path d="M255,1300 L140,1625" fill="none" stroke="#777a81" stroke-width="54" stroke-linecap="round" stroke-linejoin="round"/>
<rect x="100" y="1600" width="100" height="50" rx="12" fill="#2b2d32"/>
<path d="M215,1450 L1085,1485" fill="none" stroke="#2b2d32" stroke-width="58" stroke-linecap="butt" stroke-linejoin="round"/><path d="M215,1450 L1085,1485" fill="none" stroke="#777a81" stroke-width="34" stroke-linecap="butt" stroke-linejoin="round"/>
<path d="M285,905 L405,1180" fill="none" stroke="#2b2d32" stroke-width="78" stroke-linecap="butt" stroke-linejoin="round"/><path d="M285,905 L405,1180" fill="none" stroke="#777a81" stroke-width="54" stroke-linecap="butt" stroke-linejoin="round"/>
<path d="M380,1385 L1000,1335" fill="none" stroke="#2b2d32" stroke-width="86" stroke-linecap="round" stroke-linejoin="round"/><path d="M380,1385 L1000,1335" fill="none" stroke="#73767d" stroke-width="62" stroke-linecap="round" stroke-linejoin="round"/>
<path d="M600,1215 L985,1245" fill="none" stroke="#2b2d32" stroke-width="70" stroke-linecap="butt" stroke-linejoin="round"/><path d="M600,1215 L985,1245" fill="none" stroke="#777a81" stroke-width="46" stroke-linecap="butt" stroke-linejoin="round"/>
<path d="M620,1290 L860,1270 L860,1300 L640,1320 Z" fill="#d0d0e3"/>
<path d="M565,1130 L830,955" fill="none" stroke="#2b2d32" stroke-width="66" stroke-linecap="butt" stroke-linejoin="round"/><path d="M565,1130 L830,955" fill="none" stroke="#777a81" stroke-width="42" stroke-linecap="butt" stroke-linejoin="round"/>
<path d="M795,965 L800,885 L860,865 L935,890 L1045,985 L990,1012 L905,935 L835,995 Z" fill="#777a81" stroke="#2b2d32" stroke-width="10" stroke-linejoin="round"/>
<rect x="795" y="810" width="40" height="70" rx="10" fill="#55585f" stroke="#2b2d32" stroke-width="6"/>
<path d="M895,700 L965,975 L1140,1630" fill="none" stroke="#2b2d32" stroke-width="78" stroke-linecap="butt" stroke-linejoin="round"/><path d="M895,700 L965,975 L1140,1630" fill="none" stroke="#777a81" stroke-width="54" stroke-linecap="butt" stroke-linejoin="round"/>
<rect x="1085" y="1555" width="100" height="110" rx="10" fill="#8a8d94" stroke="#2b2d32" stroke-width="8" transform="rotate(-14 1135 1610)"/>
<circle cx="1212" cy="1592" r="34" fill="#2a2c31"/>
<circle cx="1130" cy="1385" r="26" fill="#2a2c31"/>
<path d="M335,1200 C400,1165 540,1170 610,1210 C640,1260 630,1340 590,1385 C520,1420 400,1415 345,1380 C315,1330 315,1250 335,1200 Z" fill="#73767d" stroke="#2b2d32" stroke-width="10"/>
<path d="M380,1250 C440,1215 520,1225 560,1260 M370,1310 C430,1280 520,1285 575,1320" fill="none" stroke="#4b4e55" stroke-width="12"/>
<path d="M440,1295 L520,1215 L565,1240 L490,1320 Z" fill="#4b4e55"/>
<rect x="118" y="838" width="336" height="56" rx="6" fill="#777a81" stroke="#2b2d32" stroke-width="9"/>
<rect x="150" y="900" width="42" height="60" rx="6" fill="#55585f" stroke="#2b2d32" stroke-width="6"/>
<rect x="320" y="780" width="120" height="58" fill="#4a4d54" stroke="#2b2d32" stroke-width="6"/>
<path d="M162,700 C200,672 270,700 345,770 L350,800 C280,806 195,786 168,752 Z" fill="#2c2e35"/>
<path d="M940,600 L1085,596 L1188,524" fill="none" stroke="#2b2d32" stroke-width="36" stroke-linecap="round" stroke-linejoin="round"/><path d="M940,600 L1085,596 L1188,524" fill="none" stroke="#777a81" stroke-width="22" stroke-linecap="round" stroke-linejoin="round"/>
<path d="M1000,712 L1215,722 L1338,632" fill="none" stroke="#2b2d32" stroke-width="36" stroke-linecap="round" stroke-linejoin="round"/><path d="M1000,712 L1215,722 L1338,632" fill="none" stroke="#777a81" stroke-width="22" stroke-linecap="round" stroke-linejoin="round"/>
<rect x="868" y="612" width="100" height="84" rx="8" fill="#6b6e76" stroke="#2b2d32" stroke-width="8"/>
<path d="M205,618 C250,560 330,575 420,635 C520,700 625,765 662,812 C650,905 600,1010 545,1135 L452,1122 C480,1010 520,905 548,862 C470,835 330,795 232,742 C190,705 188,655 205,618 Z" fill="#5a63b2" stroke="#252b66" stroke-width="10" stroke-linejoin="round"/>
<path d="M430,1130 L545,1130 C568,1160 575,1195 560,1215 L440,1182 Z" fill="#f3f3f6" stroke="#70727a" stroke-width="6"/>
<path d="M655,400 C760,470 860,540 945,592 L928,626 C835,588 725,520 640,450 Z" fill="#7a492c" stroke="#2e170c" stroke-width="9"/>
<path d="M250,565 C272,500 322,440 382,398 C442,350 522,318 592,318 C642,338 682,388 692,420 C682,460 642,482 602,492 L562,512 C582,542 592,562 590,582 C560,622 520,642 490,652 C420,640 320,602 250,565 Z" fill="#b59ca8" stroke="#3e2e38" stroke-width="10" stroke-linejoin="round"/>
<path d="M570,475 C640,450 700,475 760,525 C850,595 940,652 1010,668 C1040,682 1035,715 1000,718 C905,705 790,640 705,585 C655,555 610,535 570,515 Z" fill="#8a5535" stroke="#2e170c" stroke-width="9"/>
<path d="M468,425 C520,360 625,350 685,402 L645,478 L505,505 Z" fill="#b9a0ac" stroke="#3e2e38" stroke-width="10" stroke-linejoin="round"/>
<path d="M615,325 L700,360 L690,420 L600,385 Z" fill="#7a492c"/>
<path d="M688,268 C720,238 770,240 782,270 L776,310 L792,342 L772,352 L766,382 C740,392 700,382 680,362 C660,340 668,300 688,268 Z" fill="#8a5535" stroke="#3c2012" stroke-width="4"/>
<path d="M605,108 C680,78 782,118 802,200 C806,242 790,262 770,252 C740,240 700,252 682,282 C662,312 642,332 602,332 C542,342 482,342 442,372 C402,402 372,442 340,442 C328,420 350,380 400,340 C450,300 522,290 552,250 C560,190 570,138 605,108 Z" fill="#33150e"/>
</svg>
<svg x="1450" y="830" width="210" height="300" viewBox="0 0 1215 1736">
<defs>
<linearGradient id="amberG" x1="0" x2="1" y1="0" y2="0"><stop offset="0" stop-color="#6e3b13"/><stop offset="0.12" stop-color="#8f5220"/><stop offset="0.45" stop-color="#ab672b"/><stop offset="0.8" stop-color="#925522"/><stop offset="1" stop-color="#663610"/></linearGradient>
<linearGradient id="capG" x1="0" x2="1" y1="0" y2="0"><stop offset="0" stop-color="#7d707c"/><stop offset="0.15" stop-color="#a396a2"/><stop offset="0.45" stop-color="#b3a7b3"/><stop offset="0.75" stop-color="#94879a"/><stop offset="1" stop-color="#75687a"/></linearGradient>
<clipPath id="botClip"><path d="M190,430 L190,1440 C190,1500 350,1532 500,1532 C650,1532 805,1500 805,1440 L805,430 Z"/></clipPath>
</defs>
<path d="M190,430 L190,1440 C190,1500 350,1532 500,1532 C650,1532 805,1500 805,1440 L805,430 Z" fill="url(#amberG)" stroke="#4e2a0e" stroke-width="6"/>
<g clip-path="url(#botClip)">
<ellipse cx="498" cy="1470" rx="300" ry="55" fill="#6a3812" opacity="0.6"/>
<g transform="rotate(28 560 1300)"><rect x="420" y="1256" width="280" height="88" rx="44" fill="#b9a48f"/><path d="M560,1256 H464 A44,44 0 0 0 464,1344 H560 Z" fill="#b53a26"/><rect x="446.4" y="1270.08" width="227.2" height="19.36" rx="9.68" fill="#fff" opacity="0.28"/><rect x="420" y="1256" width="280" height="88" rx="44" fill="none" stroke="#5a2a18" stroke-width="5" opacity="0.55"/></g>
<g transform="rotate(-14 400 1335)"><rect x="255" y="1290" width="290" height="90" rx="45" fill="#b9a48f"/><path d="M400,1290 H300 A45,45 0 0 0 300,1380 H400 Z" fill="#b53a26"/><rect x="282" y="1304.4" width="236" height="19.8" rx="9.9" fill="#fff" opacity="0.28"/><rect x="255" y="1290" width="290" height="90" rx="45" fill="none" stroke="#5a2a18" stroke-width="5" opacity="0.55"/></g>
<g transform="rotate(-6 600 1385)"><rect x="450" y="1339" width="300" height="92" rx="46" fill="#c0402a"/><path d="M600,1339 H496 A46,46 0 0 0 496,1431 H600 Z" fill="#b9a48f"/><rect x="477.6" y="1353.72" width="244.8" height="20.24" rx="10.12" fill="#fff" opacity="0.28"/><rect x="450" y="1339" width="300" height="92" rx="46" fill="none" stroke="#5a2a18" stroke-width="5" opacity="0.55"/></g>
<g transform="rotate(4 430 1400)"><rect x="280" y="1354" width="300" height="92" rx="46" fill="#b39c86"/><path d="M430,1354 H326 A46,46 0 0 0 326,1446 H430 Z" fill="#b53a26"/><rect x="307.6" y="1368.72" width="244.8" height="20.24" rx="10.12" fill="#fff" opacity="0.28"/><rect x="280" y="1354" width="300" height="92" rx="46" fill="none" stroke="#5a2a18" stroke-width="5" opacity="0.55"/></g>
<rect x="190" y="1240" width="615" height="300" fill="#8a4d1c" opacity="0.22"/>
</g>
<path d="M212,700 Q500,735 795,700 L795,1228 Q500,1262 212,1228 Z" fill="#f4f2ee"/>
<path d="M700,712 Q760,708 795,700 L795,1228 Q760,1236 700,1242 Z" fill="#d9d3cb" opacity="0.55"/>
<g fill="none" stroke="#4a4e59" stroke-width="13">
<path d="M270,839 Q400,853 522,853"/>
<path d="M270,874 Q400,888 522,888"/>
<path d="M270,909 Q400,923 522,923"/>
<path d="M270,942 Q400,956 522,956"/>
<path d="M270,985 Q500,1023 722,977"/>
<path d="M270,1020 Q500,1058 722,1012"/>
<path d="M270,1052 Q500,1090 722,1044"/>
<path d="M270,1084 Q500,1122 722,1076"/>
</g>
<path d="M295,1128 Q520,1160 745,1122 L745,1185 Q520,1222 295,1192 Z" fill="#7fa6d8"/>
<path d="M160,188 L160,418 C160,470 330,492 498,492 C668,492 836,470 836,418 L836,188 Z" fill="url(#capG)" stroke="#5e5260" stroke-width="6"/>
<g stroke="#7c6f7e" stroke-width="6" opacity="0.55">
<path d="M200,250 V455"/>
<path d="M236,250 V455"/>
<path d="M272,250 V455"/>
<path d="M308,250 V455"/>
<path d="M344,250 V455"/>
<path d="M380,250 V455"/>
<path d="M416,250 V455"/>
<path d="M452,250 V455"/>
<path d="M488,250 V455"/>
<path d="M524,250 V455"/>
<path d="M560,250 V455"/>
<path d="M596,250 V455"/>
<path d="M632,250 V455"/>
<path d="M668,250 V455"/>
<path d="M704,250 V455"/>
<path d="M740,250 V455"/>
<path d="M776,250 V455"/>
<path d="M812,250 V455"/>
</g>
<ellipse cx="498" cy="186" rx="338" ry="72" fill="#8f8390" stroke="#5e5260" stroke-width="6"/>
<ellipse cx="498" cy="182" rx="318" ry="58" fill="#f5f4f6"/>
<g transform="rotate(3 925 1470)"><rect x="794" y="1428" width="262" height="84" rx="42" fill="#ebe3e4"/><path d="M925,1428 H836 A42,42 0 0 0 836,1512 H925 Z" fill="#cf2630"/><rect x="819.2" y="1441.44" width="211.6" height="18.48" rx="9.24" fill="#fff" opacity="0.28"/><rect x="794" y="1428" width="262" height="84" rx="42" fill="none" stroke="#7a1a1e" stroke-width="5" opacity="0.55"/></g>
<g transform="rotate(-19 615 1552)"><rect x="481" y="1509" width="268" height="86" rx="43" fill="#ebe3e4"/><path d="M615,1509 H524 A43,43 0 0 0 524,1595 H615 Z" fill="#cf2630"/><rect x="506.8" y="1522.76" width="216.4" height="18.92" rx="9.46" fill="#fff" opacity="0.28"/><rect x="481" y="1509" width="268" height="86" rx="43" fill="none" stroke="#7a1a1e" stroke-width="5" opacity="0.55"/></g>
<g transform="rotate(5 900 1558)"><rect x="765" y="1514" width="270" height="88" rx="44" fill="#cf2630"/><path d="M900,1514 H809 A44,44 0 0 0 809,1602 H900 Z" fill="#e6dedf"/><rect x="791.4" y="1528.08" width="217.2" height="19.36" rx="9.68" fill="#fff" opacity="0.28"/><rect x="765" y="1514" width="270" height="88" rx="44" fill="none" stroke="#7a1a1e" stroke-width="5" opacity="0.55"/></g>
</svg>
<svg x="1690" y="810" width="340" height="330" viewBox="0 0 1789 1736">
<g transform="translate(118,1648) rotate(-45)">
<rect x="-8" y="-36" width="110" height="76" rx="14" fill="#c7ccd9" stroke="#5f74a6" stroke-width="8"/>
<path d="M95,-62 L215,-72 L300,-92 L300,98 L215,78 L95,66 Z" fill="#e3e4ec" stroke="#5f74a6" stroke-width="8" stroke-linejoin="round"/>
<path d="M200,-72 L230,-76 L230,82 L200,78 Z" fill="#b4b9c8"/>
<rect x="298" y="-96" width="670" height="192" rx="26" fill="#4b4f58" stroke="#2c4886" stroke-width="9"/>
<rect x="322" y="-62" width="620" height="120" rx="34" fill="#24272d"/>
<rect x="345" y="-46" width="340" height="58" rx="24" fill="#a9b8cd"/>
<rect x="700" y="-52" width="230" height="100" rx="16" fill="#111317"/>
<g stroke="#6f747e" stroke-width="10"><path d="M740,-40 V30"/><path d="M775,-40 V30"/><path d="M850,-30 V36"/></g>
<rect x="956" y="-112" width="1142" height="232" rx="22" fill="#5873a8" stroke="#2c4886" stroke-width="10"/>
<path d="M1866,-110 V118" stroke="#2c4886" stroke-width="8" opacity="0.8"/>
<path d="M2060,-108 H2078 A20,20 0 0 1 2098,-88 V96 A20,20 0 0 1 2078,116 H2060 Z" fill="#384563"/>
<rect x="1640" y="-46" width="216" height="98" rx="18" fill="#6a85b8" stroke="#3f5a95" stroke-width="8"/>
<rect x="1668" y="-22" width="160" height="50" rx="10" fill="#5f7ab0"/>
<g stroke="#f4f4f4" stroke-width="22" stroke-linecap="round"><path d="M1552,-4 H1604"/><path d="M1578,-30 V22"/></g>
<g stroke="#2a3a66" stroke-width="9" stroke-linecap="round"><path d="M1965,-44 H2040"/><path d="M1965,62 H2040"/></g>
</g></svg>
<svg x="2420" y="820" width="420" height="330" viewBox="0 0 2156 1694">
<defs>
<linearGradient id="slG" x1="0" y1="0" x2="1" y2="1"><stop offset="0" stop-color="#8e3452"/><stop offset="0.4" stop-color="#b9627e"/><stop offset="0.68" stop-color="#cf849c"/><stop offset="1" stop-color="#a04a68"/></linearGradient>
<linearGradient id="rmG" x1="0" y1="1" x2="1" y2="0"><stop offset="0" stop-color="#bb7a92"/><stop offset="0.5" stop-color="#d9a4b5"/><stop offset="1" stop-color="#d096aa"/></linearGradient>
<linearGradient id="fadeTop" x1="0" y1="0" x2="0" y2="1"><stop offset="0" stop-color="#dec8c9" stop-opacity="1"/><stop offset="1" stop-color="#dec8c9" stop-opacity="0"/></linearGradient>
<linearGradient id="fadeBot" x1="0" y1="0" x2="0" y2="1"><stop offset="0" stop-color="#dec8c9" stop-opacity="0"/><stop offset="1" stop-color="#dec8c9" stop-opacity="1"/></linearGradient>
<clipPath id="slClip"><path d="M1175,150 C1150,220 1130,300 1125,380 C1118,460 1125,540 1150,600 C1175,640 1195,680 1190,720 C1185,790 1150,860 1110,905 C1080,940 1020,975 940,1000 C860,1025 780,1050 720,1050 C660,1045 600,1025 500,1000 C480,985 460,965 440,958 C400,945 360,945 330,950 C270,955 230,965 200,985 C150,1020 120,1060 100,1110 C85,1160 88,1230 100,1300 C112,1370 135,1420 150,1450 C160,1480 168,1510 170,1545 L365,1535 C360,1480 350,1430 335,1395 C310,1360 290,1330 280,1290 C270,1250 275,1210 300,1165 C340,1150 400,1148 440,1152 C455,1160 465,1165 475,1165 C500,1190 530,1220 560,1245 C600,1280 680,1320 760,1340 C820,1352 900,1352 960,1345 C1050,1325 1130,1290 1200,1250 C1260,1210 1300,1180 1330,1150 C1380,1100 1410,1050 1430,1010 C1460,950 1485,880 1500,800 C1512,740 1512,680 1500,620 C1495,580 1485,545 1470,520 C1450,505 1420,505 1395,512 C1370,520 1350,525 1340,520 C1315,500 1300,470 1298,440 C1290,380 1292,330 1300,270 C1310,210 1322,170 1338,125 Z"/></clipPath>
<clipPath id="rmClip"><path d="M1640,570 C1680,545 1720,535 1760,540 C1820,545 1870,560 1905,585 C1950,620 1985,660 2005,705 C2030,760 2038,820 2032,880 C2025,950 2010,1010 1985,1065 C1960,1130 1920,1195 1880,1250 C1830,1320 1780,1380 1720,1430 C1660,1480 1580,1530 1500,1562 C1430,1590 1360,1612 1290,1622 C1230,1630 1160,1630 1100,1620 C1040,1610 990,1590 950,1568 C900,1535 860,1495 830,1450 C880,1448 940,1445 1000,1440 C1070,1432 1140,1418 1200,1400 C1270,1378 1340,1338 1400,1290 C1460,1240 1515,1180 1560,1120 C1600,1065 1630,1010 1650,950 C1668,900 1675,850 1672,800 C1668,760 1655,720 1640,680 C1632,645 1630,600 1640,570 Z"/></clipPath>
</defs>
<path d="M1640,570 C1680,545 1720,535 1760,540 C1820,545 1870,560 1905,585 C1950,620 1985,660 2005,705 C2030,760 2038,820 2032,880 C2025,950 2010,1010 1985,1065 C1960,1130 1920,1195 1880,1250 C1830,1320 1780,1380 1720,1430 C1660,1480 1580,1530 1500,1562 C1430,1590 1360,1612 1290,1622 C1230,1630 1160,1630 1100,1620 C1040,1610 990,1590 950,1568 C900,1535 860,1495 830,1450 C880,1448 940,1445 1000,1440 C1070,1432 1140,1418 1200,1400 C1270,1378 1340,1338 1400,1290 C1460,1240 1515,1180 1560,1120 C1600,1065 1630,1010 1650,950 C1668,900 1675,850 1672,800 C1668,760 1655,720 1640,680 C1632,645 1630,600 1640,570 Z" fill="url(#rmG)" stroke="#a2677d" stroke-width="8"/>
<g clip-path="url(#rmClip)" fill="none" stroke="#dbb0bf" stroke-width="9" opacity="0.45">
<path d="M900,1600 Q1500,1300 1700,620"/>
<path d="M1010,1580 Q1545,1240 1740,630"/>
<path d="M1120,1560 Q1590,1180 1780,640"/>
<path d="M1230,1540 Q1635,1120 1820,650"/>
<path d="M1340,1520 Q1680,1060 1860,660"/>
<path d="M1450,1500 Q1725,1000 1900,670"/>
<path d="M1560,1480 Q1770,940 1940,680"/>
<path d="M1670,1460 Q1815,880 1980,690"/>
<path d="M1780,1440 Q1860,820 2020,700"/>
</g>
<path d="M830,1450 C880,1448 940,1445 1000,1440 C1070,1432 1140,1418 1200,1400 C1270,1378 1340,1338 1400,1290 C1460,1240 1515,1180 1560,1120 C1600,1065 1630,1010 1650,950 C1668,900 1675,850 1672,800 C1668,760 1655,720 1640,680" fill="none" stroke="#9a5c74" stroke-width="16" opacity="0.75"/>
<path d="M1175,150 C1150,220 1130,300 1125,380 C1118,460 1125,540 1150,600 C1175,640 1195,680 1190,720 C1185,790 1150,860 1110,905 C1080,940 1020,975 940,1000 C860,1025 780,1050 720,1050 C660,1045 600,1025 500,1000 C480,985 460,965 440,958 C400,945 360,945 330,950 C270,955 230,965 200,985 C150,1020 120,1060 100,1110 C85,1160 88,1230 100,1300 C112,1370 135,1420 150,1450 C160,1480 168,1510 170,1545 L365,1535 C360,1480 350,1430 335,1395 C310,1360 290,1330 280,1290 C270,1250 275,1210 300,1165 C340,1150 400,1148 440,1152 C455,1160 465,1165 475,1165 C500,1190 530,1220 560,1245 C600,1280 680,1320 760,1340 C820,1352 900,1352 960,1345 C1050,1325 1130,1290 1200,1250 C1260,1210 1300,1180 1330,1150 C1380,1100 1410,1050 1430,1010 C1460,950 1485,880 1500,800 C1512,740 1512,680 1500,620 C1495,580 1485,545 1470,520 C1450,505 1420,505 1395,512 C1370,520 1350,525 1340,520 C1315,500 1300,470 1298,440 C1290,380 1292,330 1300,270 C1310,210 1322,170 1338,125 Z" fill="url(#slG)"/>
<g clip-path="url(#slClip)">
<path d="M1125,380 C1118,460 1125,540 1150,600 C1175,640 1195,680 1190,720 C1185,790 1150,860 1110,905 C1080,940 1020,975 940,1000 C860,1025 780,1050 720,1050 C660,1045 600,1025 500,1000" fill="none" stroke="#6f1d38" stroke-width="90" opacity="0.8"/>
<path d="M1340,520 C1400,560 1440,560 1470,520 L1500,640 C1440,660 1360,640 1290,570 Z" fill="#7c2541" opacity="0.85"/>
<path d="M1298,440 C1290,380 1292,330 1300,270 L1335,130" fill="none" stroke="#7c2541" stroke-width="50" opacity="0.7"/>
<path d="M200,985 C150,1020 120,1060 100,1110 C85,1160 88,1230 100,1300 C112,1370 135,1420 150,1450 L170,1545" fill="none" stroke="#6a1a34" stroke-width="80" opacity="0.75"/>
<path d="M365,1535 C360,1480 350,1430 335,1395 C310,1360 290,1330 280,1290 C270,1250 275,1210 300,1165 L475,1165 L560,1245" fill="none" stroke="#6a1a34" stroke-width="60" opacity="0.75"/>
<path d="M440,958 C400,945 360,945 330,950 C270,955 230,965 200,985" fill="none" stroke="#7c2541" stroke-width="40" opacity="0.6"/>
<path d="M1400,640 C1440,760 1420,900 1340,1030 C1260,1140 1100,1220 940,1240" fill="none" stroke="#f3ccd8" stroke-width="30" opacity="0.5" stroke-linecap="round" stroke-dasharray="30 70 6 50 60 80"/>
<path d="M1330,700 C1360,800 1340,920 1270,1020" fill="none" stroke="#e4a8ba" stroke-width="70" opacity="0.45"/>
<path d="M170,1090 C210,1020 300,1000 420,1020" fill="none" stroke="#efc0cf" stroke-width="22" opacity="0.5" stroke-linecap="round" stroke-dasharray="20 50 50 60"/>
<path d="M1165,330 C1155,420 1175,520 1205,600" fill="none" stroke="#eebccb" stroke-width="28" opacity="0.5"/>
<path d="M190,1200 C195,1300 220,1400 250,1500" fill="none" stroke="#e7b3c4" stroke-width="34" opacity="0.45"/>
<rect x="1080" y="100" width="320" height="190" fill="url(#fadeTop)"/>
<rect x="40" y="1380" width="420" height="175" fill="url(#fadeBot)"/>
</g>
<g fill="none" stroke="#5e1830" stroke-width="13" stroke-linejoin="round" stroke-linecap="round">
<path d="M1180,160 C1152,225 1130,300 1125,380 C1118,460 1125,540 1150,600 C1175,640 1195,680 1190,720 C1185,790 1150,860 1110,905 C1080,940 1020,975 940,1000 C860,1025 780,1050 720,1050 C660,1045 600,1025 500,1000 C480,985 460,965 440,958 C400,945 360,945 330,950 C270,955 230,965 200,985 C150,1020 120,1060 100,1110 C85,1160 88,1230 100,1300 C112,1370 135,1420 150,1450" />
<path d="M340,1420 C335,1400 310,1360 290,1330 C280,1290 270,1250 275,1210 C280,1190 290,1175 300,1165 C340,1150 400,1148 440,1152 C455,1160 465,1165 475,1165 C500,1190 530,1220 560,1245 C590,1272 615,1288 640,1298"/>
<path d="M1470,520 C1450,505 1420,505 1395,512 C1370,520 1350,525 1340,520 C1315,500 1300,470 1298,440 C1290,380 1292,330 1300,270 C1310,210 1322,170 1335,135"/>
</g>
<path d="M1470,520 C1485,545 1495,580 1500,620 C1512,680 1512,740 1500,800 C1485,880 1460,950 1430,1010 C1410,1050 1380,1100 1330,1150 C1300,1180 1260,1210 1200,1250 C1130,1290 1050,1325 960,1345 C900,1352 820,1352 760,1340 C720,1332 680,1318 640,1298" fill="none" stroke="#2a0b14" stroke-width="18" stroke-dasharray="9 12"/>
<g fill="none" stroke="#0d0a0c" stroke-width="20" stroke-linecap="round" stroke-linejoin="round">
<path d="M1282,55 C1245,150 1225,260 1212,400"/>
<path d="M1255,595 C1300,690 1310,800 1280,890 C1250,960 1180,1020 1090,1065"/>
<path d="M872,1162 C760,1160 640,1110 480,1065"/>
</g>
<g fill="#0d0a0c" stroke="#0d0a0c" stroke-width="10" stroke-linejoin="round">
<path d="M1174,392 L1244,398 L1206,455 Z"/>
<path d="M1055,1086 L1088,1028 L1128,1082 Z"/>
<path d="M450,1060 L515,1044 L502,1104 Z"/>
</g>
</svg>
</svg>
<h1 class="t red" id="t0" style="left:87.0px;top:37.7px;font-size:86px;font-weight:700;color:#b3272d;transform:scaleX(1.0366);">CENTRAL ILLUSTRATION</h1>
<h1 class="t" id="t1" style="left:1213.0px;top:36.7px;font-size:86px;font-weight:700;color:#12214b;transform:scaleX(1.0005);">Evidence for Safety and Efficacy of Obesity</h1>
<h1 class="t" id="t2" style="left:87.0px;top:133.2px;font-size:86px;font-weight:700;color:#12214b;transform:scaleX(1.0097);">Management Strategies in Individuals With HF</h1>
<p class="t ft" id="t3" style="left:84.0px;top:2615.0px;font-size:78px;font-weight:700;color:#000;word-spacing:9px;transform:scaleX(0.9138);">Kittleson MM, et al. JACC.</p>
<p class="t ft" id="t4" style="left:1020.0px;top:2615.0px;font-size:78px;font-weight:700;color:#000;transform:scaleX(0.9864);">2025;10.1016/j.jacc.2025.05.008</p>
<p class="t md" id="t5" style="left:1213.0px;top:343.2px;font-size:64px;font-weight:400;color:#0b0b10;transform:scaleX(0.9090);">Weight Loss Strategies in Heart Failure</p>
<p class="t md" id="t6" style="left:544.0px;top:689.1px;font-size:58px;font-weight:400;color:#0b0b10;transform:scaleX(0.9856);">Behavioral Changes:</p>
<p class="t md" id="t7" style="left:584.8px;top:759.2px;font-size:58px;font-weight:400;color:#0b0b10;transform:scaleX(0.9861);">Diet and Exercise</p>
<p class="t md" id="t8" style="left:1566.2px;top:689.1px;font-size:58px;font-weight:400;color:#0b0b10;transform:scaleX(1.0322);">Anti-Obesity</p>
<p class="t md" id="t9" style="left:1569.5px;top:759.2px;font-size:58px;font-weight:400;color:#0b0b10;transform:scaleX(1.0277);">Medications</p>
<p class="t md" id="t10" style="left:2338.2px;top:689.1px;font-size:58px;font-weight:400;color:#0b0b10;transform:scaleX(1.0189);">Metabolic and Bariatic</p>
<p class="t md" id="t11" style="left:2530.0px;top:759.2px;font-size:58px;font-weight:400;color:#0b0b10;transform:scaleX(0.9789);">Surgery</p>
<p class="t" id="t12" style="left:559.4px;top:1192.7px;font-size:57px;font-weight:400;color:#0b0b10;transform:scaleX(0.9956);">5%-10% weight loss</p>
<p class="t" id="t13" style="left:447.2px;top:1334.6px;font-size:57px;font-weight:400;color:#0b0b10;transform:scaleX(0.9518);">Exercise and caloric restriction</p>
<p class="t" id="t14" style="left:438.8px;top:1403.8px;font-size:57px;font-weight:400;color:#0b0b10;transform:scaleX(0.9855);">with additive weight loss effect</p>
<p class="t" id="t15" style="left:437.2px;top:1541.2px;font-size:57px;font-weight:400;color:#0b0b10;transform:scaleX(0.9828);">Weight loss <b>difficult to sustain,</b></p>
<p class="t" id="t16" style="left:545.0px;top:1609.9px;font-size:57px;font-weight:400;color:#0b0b10;transform:scaleX(0.9994);">with significant regain</p>
<p class="t" id="t17" style="left:697.2px;top:1678.6px;font-size:57px;font-weight:400;color:#0b0b10;transform:scaleX(1.0020);">over time</p>
<p class="t" id="t18" style="left:579.7px;top:1858.5px;font-size:57px;font-weight:400;color:#0b0b10;transform:scaleX(0.9943);">Limited data in HF,</p>
<p class="t" id="t19" style="left:489.0px;top:1927.2px;font-size:57px;font-weight:400;color:#0b0b10;transform:scaleX(0.9861);">but successful weight loss</p>
<p class="t" id="t20" style="left:499.2px;top:1995.8px;font-size:57px;font-weight:400;color:#0b0b10;transform:scaleX(0.9792);">associated with <b>improved</b></p>
<p class="t" id="t21" style="left:548.8px;top:2064.2px;font-size:57px;font-weight:400;color:#0b0b10;transform:scaleX(0.9866);"><b>functional status and</b></p>
<p class="t" id="t22" style="left:494.4px;top:2132.5px;font-size:57px;font-weight:400;color:#0b0b10;transform:scaleX(0.9802);"><b>reduced symptom burden</b></p>
<p class="t" id="t23" style="left:703.1px;top:2200.9px;font-size:57px;font-weight:400;color:#0b0b10;transform:scaleX(0.9135);">in HFpEF</p>
<p class="t" id="t24" style="left:1441.8px;top:1192.7px;font-size:57px;font-weight:400;color:#0b0b10;transform:scaleX(1.0208);">10%-20% weight loss</p>
<p class="t" id="t25" style="left:1367.2px;top:1334.2px;font-size:57px;font-weight:400;color:#0b0b10;transform:scaleX(0.9836);">Weight regain with cessation</p>
<p class="t" id="t26" style="left:1380.0px;top:1403.0px;font-size:57px;font-weight:400;color:#0b0b10;transform:scaleX(1.0065);">of anti-obesity medications</p>
<p class="t" id="t27" style="left:1557.2px;top:1541.2px;font-size:57px;font-weight:400;color:#0b0b10;transform:scaleX(0.9972);"><b>Semaglutide:</b></p>
<p class="t" id="t28" style="left:1366.0px;top:1609.9px;font-size:57px;font-weight:400;color:#0b0b10;transform:scaleX(0.9954);"><span class="bu">•</span>Signficant improvement in</p>
<p class="t" id="t29" style="left:1339.2px;top:1678.6px;font-size:57px;font-weight:400;color:#0b0b10;transform:scaleX(0.9850);"><b>functional status and symptom</b></p>
<p class="t" id="t30" style="left:1514.0px;top:1747.1px;font-size:57px;font-weight:400;color:#0b0b10;transform:scaleX(0.9425);"><b>burden</b> in HFpEF</p>
<p class="t" id="t31" style="left:1352.8px;top:1816.1px;font-size:57px;font-weight:400;color:#0b0b10;transform:scaleX(0.9663);"><span class="bu">•</span><b>Reduced rates of MACE and</b></p>
<p class="t" id="t32" style="left:1411.2px;top:1885.0px;font-size:57px;font-weight:400;color:#0b0b10;transform:scaleX(0.9856);"><b>HF hospitalization</b> in HF*</p>
<p class="t" id="t33" style="left:1341.6px;top:2018.9px;font-size:57px;font-weight:400;color:#0b0b10;transform:scaleX(0.9875);"><b>Tirzepatide</b> - additional benefit:</p>
<p class="t" id="t34" style="left:1375.2px;top:2087.3px;font-size:57px;font-weight:400;color:#0b0b10;transform:scaleX(0.9511);"><b>Reduced risk for CV death or</b></p>
<p class="t" id="t35" style="left:1346.2px;top:2155.7px;font-size:57px;font-weight:400;color:#0b0b10;transform:scaleX(0.9516);"><b>HF events</b> in HFpEF (low event</p>
<p class="t" id="t36" style="left:1424.4px;top:2224.1px;font-size:57px;font-weight:400;color:#0b0b10;transform:scaleX(0.9596);">rates prevent conclusive</p>
<p class="t" id="t37" style="left:1570.2px;top:2292.3px;font-size:57px;font-weight:400;color:#0b0b10;transform:scaleX(0.9275);">assessment)</p>
<p class="t" id="t38" style="left:1501.2px;top:2431.5px;font-size:50px;font-weight:400;color:#0b0b10;transform:scaleX(0.9430);">*Secondary analysis</p>
<p class="t" id="t39" style="left:2351.8px;top:1192.7px;font-size:57px;font-weight:400;color:#0b0b10;transform:scaleX(1.0178);">10%-30% weight loss</p>
<p class="t" id="t40" style="left:2289.0px;top:1325.8px;font-size:57px;font-weight:400;color:#0b0b10;transform:scaleX(0.9811);">Weight loss often <b>sustained</b></p>
<p class="t" id="t41" style="left:2503.2px;top:1393.8px;font-size:57px;font-weight:400;color:#0b0b10;transform:scaleX(0.9539);">over years</p>
<p class="t" id="t42" style="left:2309.4px;top:1510.3px;font-size:57px;font-weight:400;color:#0b0b10;transform:scaleX(0.9774);"><b>No randomized data</b> in HF</p>
<p class="t" id="t43" style="left:2278.8px;top:1630.2px;font-size:57px;font-weight:400;color:#0b0b10;transform:scaleX(0.9720);">Observational data suggests</p>
<p class="t" id="t44" style="left:2511.6px;top:1697.2px;font-size:57px;font-weight:400;color:#0b0b10;transform:scaleX(0.9690);">that MBS:</p>
<p class="t" id="t45" style="left:2269.2px;top:1763.1px;font-size:57px;font-weight:400;color:#0b0b10;transform:scaleX(0.9571);"><span class="bu">•</span>Reduces risk of incident HF</p>
<p class="t" id="t46" style="left:2335.4px;top:1829.0px;font-size:57px;font-weight:400;color:#0b0b10;transform:scaleX(0.9379);"><span class="bu">•</span>Decreases rates of HF</p>
<p class="t" id="t47" style="left:2392.3px;top:1894.9px;font-size:57px;font-weight:400;color:#0b0b10;transform:scaleX(1.0012);">hospitalization and</p>
<p class="t" id="t48" style="left:2396.2px;top:1961.3px;font-size:57px;font-weight:400;color:#0b0b10;transform:scaleX(1.0406);">inpatient mortality</p>
<p class="t" id="t49" style="left:2384.7px;top:2093.5px;font-size:57px;font-weight:400;color:#0b0b10;transform:scaleX(1.0068);">Individuals with HF,</p>
<p class="t" id="t50" style="left:2295.0px;top:2161.7px;font-size:57px;font-weight:400;color:#0b0b10;transform:scaleX(0.9471);">especially HFrEF, may have</p>
<p class="t" id="t51" style="left:2277.0px;top:2229.9px;font-size:57px;font-weight:400;color:#0b0b10;transform:scaleX(0.9641);"><b>higher rates of complications</b></p>
<p class="t" id="t52" style="left:2478.4px;top:2297.9px;font-size:57px;font-weight:400;color:#0b0b10;transform:scaleX(0.9926);">with surgery</p>
<div id="frame"></div>
<div class="bx" style="left:9px;top:2762px;width:3427px;height:1.5px;background:#3c0b0d;"></div>
</body></html>
